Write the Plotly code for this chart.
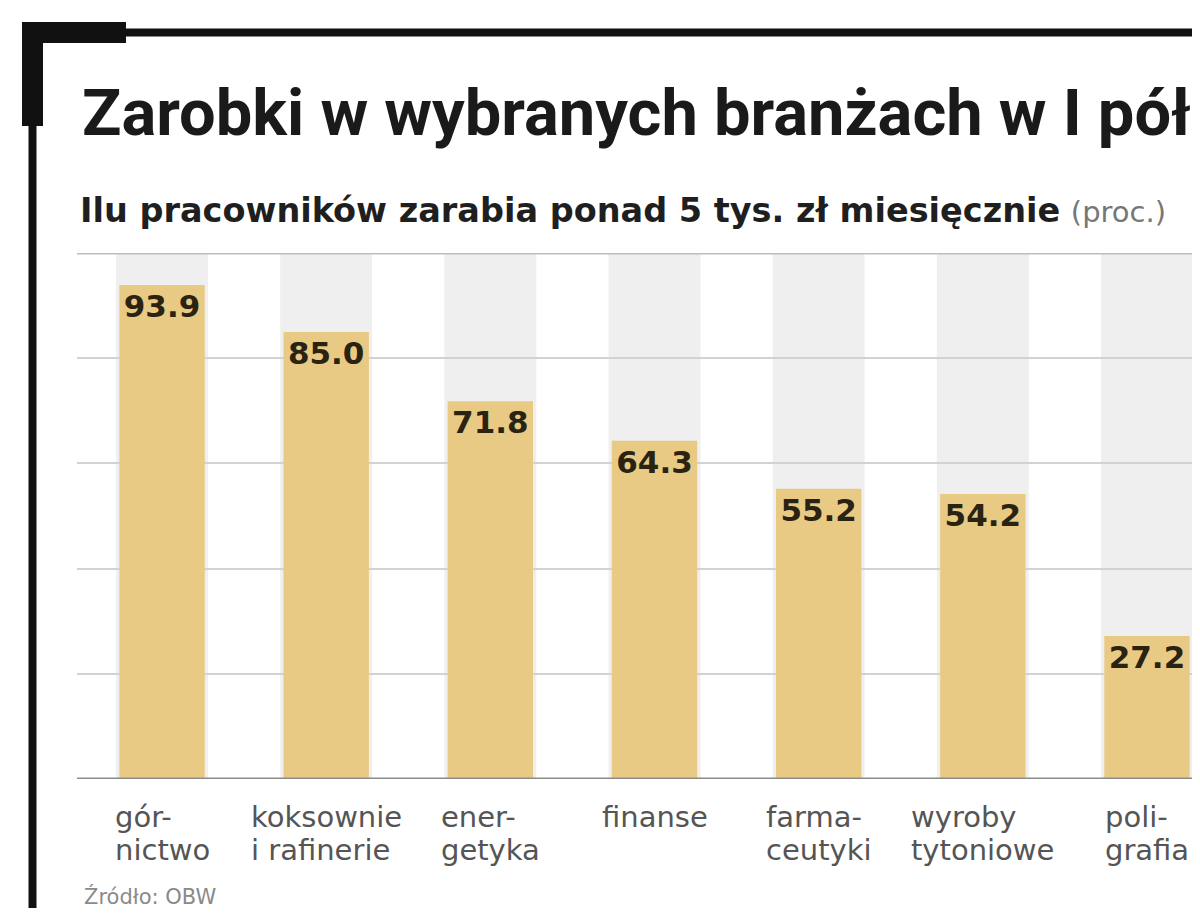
import plotly.graph_objects as go

# dane
branze = ["gór-<br>nictwo", "koksownie<br>i rafinerie", "ener-<br>getyka", "finanse",
          "farma-<br>ceutyki", "wyroby<br>tytoniowe", "poli-<br>grafia"]
procent = [93.9, 85.0, 71.8, 64.3, 55.2, 54.2, 27.2]
y_ticks = [0, 20, 40, 60, 80, 100]

tytul = "Zarobki w wybranych branżach w I półroczu"
podtytul = "Ilu pracowników zarabia ponad 5 tys. zł miesięcznie"
jednostka = "(proc.)"
zrodlo = "Źródło: OBW"

# page shows the figure shifted by the body margin
OFF = 8
# plot area in figure pixels
L, R, T, B = 77 - OFF, 1200 - OFF, 253 - OFF, 779 - OFF


def px(x):
    # page pixel -> paper x
    return (x - OFF - L) / (R - L)


def py(y):
    # page pixel -> paper y
    return (B - (y - OFF)) / (B - T)


idx = list(range(len(procent)))

fig = go.Figure()
fig.add_trace(go.Bar(
    x=idx, y=procent, width=0.52,
    marker=dict(color="#e8ca84", line=dict(width=0)),
    texttemplate="%{y:.1f}", textposition="inside", insidetextanchor="end",
    constraintext="none",
    textfont=dict(family="DejaVu Sans", size=31, color="#2a2312", weight="bold"),
    hoverinfo="skip",
))

shapes = []
# gray column bands behind bars
for i in idx:
    shapes.append(dict(type="rect", xref="x", yref="y", x0=i - 0.28, x1=i + 0.28,
                       y0=0, y1=100, fillcolor="#efefef", line=dict(width=0), layer="below"))
# top line of the plot and base line
shapes.append(dict(type="line", xref="paper", yref="y", x0=0, x1=1, y0=100, y1=100,
                   line=dict(color="#bdbdbd", width=3)))
shapes.append(dict(type="line", xref="paper", yref="y", x0=0, x1=1, y0=0, y1=0,
                   line=dict(color="#8c8c8c", width=3)))
# black frame
shapes.append(dict(type="line", xref="paper", yref="paper", x0=px(22), x1=px(1210),
                   y0=py(32.5), y1=py(32.5), line=dict(color="#111111", width=8)))
shapes.append(dict(type="line", xref="paper", yref="paper", x0=px(32.5), x1=px(32.5),
                   y0=py(24), y1=py(908), line=dict(color="#111111", width=8)))
shapes.append(dict(type="rect", xref="paper", yref="paper", x0=px(22), x1=px(126),
                   y0=py(22), y1=py(43), fillcolor="#111111", line=dict(width=0)))
shapes.append(dict(type="rect", xref="paper", yref="paper", x0=px(22), x1=px(43),
                   y0=py(22), y1=py(126), fillcolor="#111111", line=dict(width=0)))

annotations = [
    dict(text=tytul, xref="paper", yref="paper", x=px(80), y=py(113),
         xanchor="left", yanchor="middle", showarrow=False,
         font=dict(family="Roboto", size=65, color="#1a1a1a", weight="bold")),
    dict(text="<b>" + podtytul + "</b> <span style='font-size:29px;color:#777777'>"
         + jednostka + "</span>",
         xref="paper", yref="paper", x=px(78), y=py(210),
         xanchor="left", yanchor="middle", showarrow=False,
         font=dict(family="DejaVu Sans", size=33.5, color="#1f1f1f")),
    dict(text=zrodlo, xref="paper", yref="paper", x=px(82), y=py(896),
         xanchor="left", yanchor="middle", showarrow=False,
         font=dict(family="DejaVu Sans", size=21, color="#8a8a8a")),
]
# category labels: small base size keeps the line gap tight, spans set the glyph size
for i, lab in zip(idx, branze):
    txt = "<br>".join("<span style='font-size:29px'>" + part + "</span>"
                      for part in lab.split("<br>"))
    annotations.append(dict(text=txt, xref="x", yref="paper", x=i, y=py(798),
                            xanchor="center", yanchor="top", align="left", showarrow=False,
                            font=dict(family="DejaVu Sans", size=25, color="#555555")))

fig.update_layout(
    width=1200, height=923,
    margin=dict(l=L, r=1200 - R, t=T, b=923 - B, pad=0),
    paper_bgcolor="white", plot_bgcolor="white",
    showlegend=False,
    shapes=shapes, annotations=annotations,
    xaxis=dict(range=[-0.518, 6.323], showticklabels=False, showgrid=False,
               zeroline=False, showline=False, fixedrange=True),
    yaxis=dict(range=[0, 100], tickvals=y_ticks, showticklabels=False,
               showgrid=True, gridcolor="#d2d2d2", gridwidth=2,
               zeroline=False, showline=False, fixedrange=True),
)

fig.write_html("out.html")
